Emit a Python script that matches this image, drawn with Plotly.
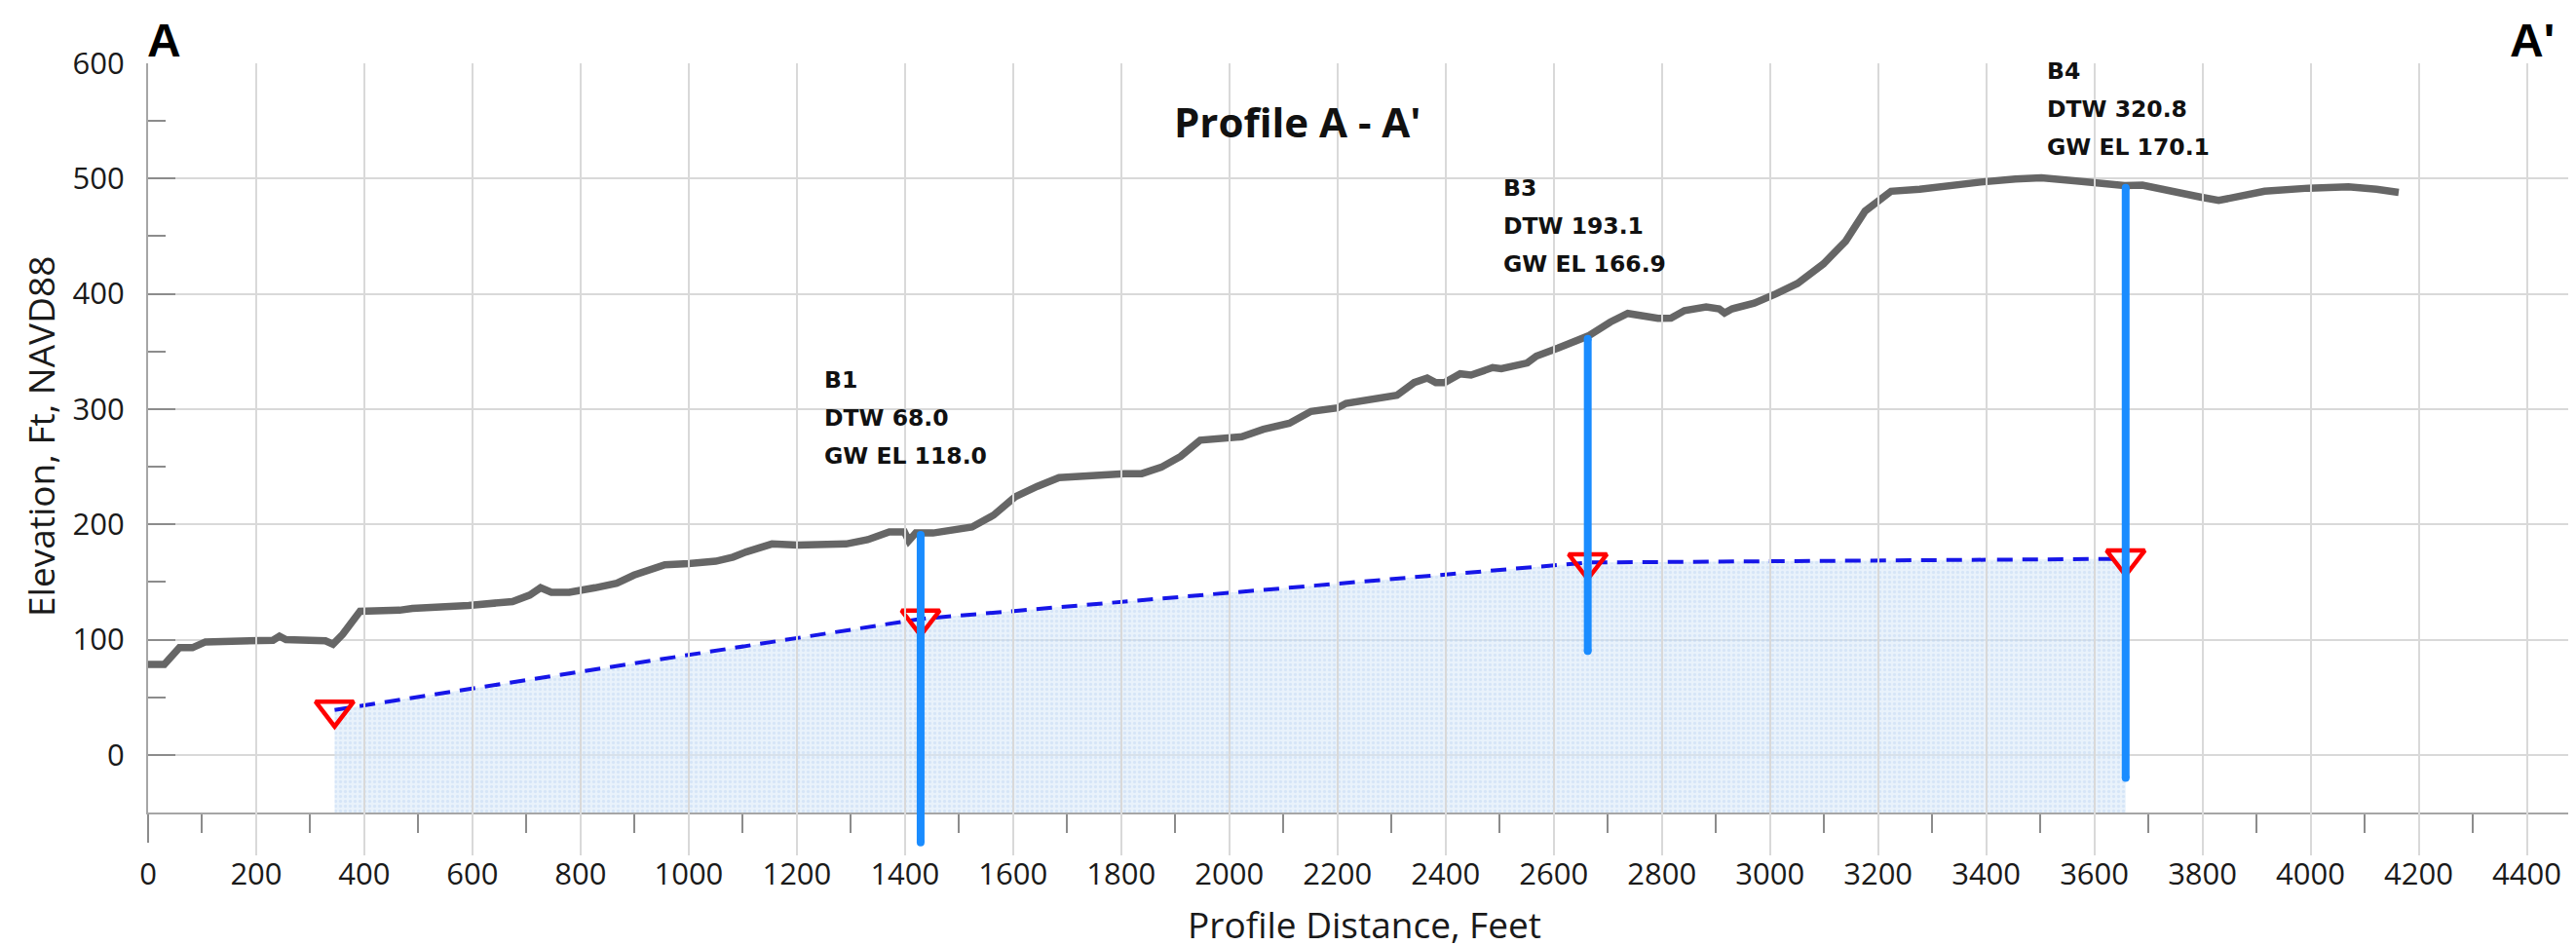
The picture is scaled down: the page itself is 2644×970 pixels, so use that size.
import plotly.graph_objects as go

# ---------------- data ----------------
GROUND_X = [0, 30, 58, 82, 106, 167, 231, 243, 255, 328, 342, 360, 392, 465, 489, 593, 650, 674, 706, 726,
            746, 779, 827, 867, 899, 932, 956, 1000, 1050, 1082, 1106, 1154, 1202, 1291, 1331, 1371, 1399,
            1407, 1420, 1452, 1524, 1564, 1604, 1645, 1685, 1806, 1838, 1874, 1910, 1946, 2023, 2063, 2111,
            2151, 2200, 2216, 2262, 2310, 2342, 2366, 2382, 2398, 2427, 2447, 2487, 2503, 2551, 2568, 2608,
            2648, 2664, 2705, 2737, 2793, 2817, 2842, 2882, 2906, 2916, 2930, 2971, 3011, 3051, 3099, 3140,
            3176, 3196, 3224, 3277, 3309, 3390, 3454, 3502, 3567, 3600, 3656, 3689, 3737, 3796, 3830, 3863,
            3915, 3996, 4070, 4122, 4163]
GROUND_Y = [78.5, 78.5, 93, 93, 98, 99.4, 99.4, 103, 100, 99, 96, 104.6, 124.5, 125.5, 127, 129.7, 131.8,
            133, 138.6, 145, 141, 141, 145, 149, 156, 161, 165, 166, 168, 171.6, 176, 183, 182, 183, 186.7,
            193.5, 193.5, 185.7, 192.5, 192.5, 197.7, 208, 224, 233, 240.6, 244, 244, 249.5, 259, 273, 276,
            282.5, 287.7, 298, 301, 305, 308.6, 312, 323, 327, 323, 323, 330.6, 329.5, 336, 335, 340, 346,
            353, 361, 363.5, 375.6, 383, 378.7, 379, 385.5, 388.7, 387, 383.4, 387, 392, 400, 409, 426,
            445.7, 471.8, 478.6, 489, 490.7, 492.8, 497, 499.6, 500.6, 498, 496, 494, 494.3, 489, 484, 481,
            484, 489, 491.7, 492.8, 490.7, 488]

WT_X = [345, 1429, 2663, 3658]
WT_Y = [39, 118.0, 166.9, 170.1]

WELL_NAMES = ["B1", "B3", "B4"]
WELL_X = [1429, 2663, 3658]
WELL_TOP = [191, 361, 492]
WELL_BOTTOM = [-76, 90, -20]
WELL_DTW = [68.0, 193.1, 320.8]
WELL_GWEL = [118.0, 166.9, 170.1]

X_RANGE = [0, 4500]
Y_RANGE = [-50, 600]
X_DTICK = 200
Y_DTICK = 100

# ---------------- layout constants (pixels) ----------------
W, H = 2644, 970
ML, MR, MT, MB = 144, 3, 57, 100
PLOT_W = W - ML - MR
PLOT_H = H - MT - MB
AXIS_BOTTOM_PX = 826          # pixel row of the x axis
DOM0 = (H - MB - AXIS_BOTTOM_PX) / PLOT_H
FT_PER_PX_Y = (Y_RANGE[1] - Y_RANGE[0]) / (AXIS_BOTTOM_PX - MT)
Y2_MIN = Y_RANGE[0] - (H - MB - AXIS_BOTTOM_PX) * FT_PER_PX_Y


def px_x(px):
    return (px - ML) / PLOT_W


def px_y(py):
    return (H - MB - py) / PLOT_H


# label placement (data units)
LABEL_X = [1247, 2503, 3508]
LABEL_Y0 = [325.5, 492.0, 593.0]
LABEL_STEP = 33.0

GRID = "#d9d9d9"
AXIS = "#a6a6a6"
TICK = "#8c8c8c"
TXT = "#1a1a1a"
WELL_BLUE = "#1a8cff"

fig = go.Figure()

baseline = [Y_RANGE[0] for _ in WT_X]
fig.add_trace(go.Scatter(x=WT_X, y=baseline, mode="lines", line=dict(width=0, color="rgba(0,0,0,0)"),
                         hoverinfo="skip", showlegend=False))
fig.add_trace(go.Scatter(x=WT_X, y=WT_Y, mode="lines", fill="tonexty",
                         fillcolor="rgba(190,214,242,0.45)",
                         fillpattern=dict(shape=".", fgcolor="rgba(165,198,238,0.55)",
                                          bgcolor="rgba(214,230,248,0.55)", size=5, solidity=0.35),
                         line=dict(color="#1616e8", width=4, dash="16px,10px"), showlegend=False))
fig.add_trace(go.Scatter(x=GROUND_X, y=GROUND_Y, mode="lines",
                         line=dict(color="#666666", width=7.5), showlegend=False))
fig.add_trace(go.Scatter(x=WT_X, y=WT_Y, mode="markers",
                         marker=dict(symbol="triangle-down-open", size=34, color="#ff0000",
                                     line=dict(color="#ff0000", width=4.5)),
                         showlegend=False))
for i in range(len(WELL_X)):
    fig.add_trace(go.Scatter(x=[WELL_X[i], WELL_X[i]], y=[WELL_TOP[i], WELL_BOTTOM[i]], mode="lines+markers",
                             line=dict(color=WELL_BLUE, width=8),
                             marker=dict(symbol="circle", size=8, color=WELL_BLUE, line=dict(width=0)),
                             yaxis="y2", showlegend=False))

annotations = []
for i, name in enumerate(WELL_NAMES):
    lines = [name, f"DTW {WELL_DTW[i]:.1f}", f"GW EL {WELL_GWEL[i]:.1f}"]
    for j, t in enumerate(lines):
        annotations.append(dict(x=LABEL_X[i], y=LABEL_Y0[i] - j * LABEL_STEP, xref="x", yref="y",
                                text=t, showarrow=False, xanchor="left", yanchor="middle",
                                font=dict(family="DejaVu Sans", size=23.5, color="#111111", weight="bold")))

annotations += [
    dict(x=px_x(1324), y=px_y(116), xref="paper", yref="paper", text="Profile A - A'", showarrow=False,
         xanchor="center", yanchor="middle",
         font=dict(family="Open Sans", size=42, color="#111111", weight="bold")),
    dict(x=px_x(160), y=px_y(34), xref="paper", yref="paper", text="A", showarrow=False,
         xanchor="center", yanchor="middle",
         font=dict(family="Liberation Sans", size=48, color="#000000", weight="bold")),
    dict(x=px_x(2591), y=px_y(34), xref="paper", yref="paper", text="A'", showarrow=False,
         xanchor="center", yanchor="middle",
         font=dict(family="Liberation Sans", size=48, color="#000000", weight="bold")),
    dict(x=px_x(1392), y=px_y(940), xref="paper", yref="paper", text="Profile Distance, Feet",
         showarrow=False, xanchor="center", yanchor="middle",
         font=dict(family="Open Sans", size=37, color=TXT)),
    dict(x=px_x(34), y=px_y(440), xref="paper", yref="paper", text="Elevation, Ft, NAVD88",
         showarrow=False, xanchor="center", yanchor="middle", textangle=-90,
         font=dict(family="Open Sans", size=37, color=TXT)),
]

fig.update_layout(
    width=W, height=H,
    margin=dict(l=ML, r=MR, t=MT, b=MB, autoexpand=False),
    paper_bgcolor="white", plot_bgcolor="rgba(0,0,0,0)",
    showlegend=False,
    annotations=annotations,
    xaxis=dict(range=X_RANGE, tick0=0, dtick=X_DTICK, showgrid=True, gridcolor=GRID, gridwidth=2,
               zeroline=False, showline=True, linecolor=AXIS, linewidth=2,
               ticks="outside", ticklen=29, tickwidth=2, tickcolor=TICK,
               minor=dict(ticks="outside", ticklen=19, dtick=100, tick0=0, tickcolor=TICK, tickwidth=2,
                          showgrid=False),
               tickfont=dict(family="Open Sans", size=31, color=TXT), ticklabelstandoff=6,
               anchor="y", automargin=False),
    yaxis=dict(range=Y_RANGE, domain=[DOM0, 1], tick0=0, dtick=Y_DTICK, showgrid=True, gridcolor=GRID,
               gridwidth=2, zeroline=False, showline=True, linecolor=AXIS, linewidth=2,
               ticks="inside", ticklen=28, tickwidth=2, tickcolor=TICK,
               minor=dict(ticks="inside", ticklen=18, dtick=50, tick0=0, tickcolor=TICK, tickwidth=2,
                          showgrid=False),
               tickfont=dict(family="Open Sans", size=31, color=TXT), ticklabelstandoff=16,
               anchor="x", automargin=False),
    yaxis2=dict(range=[Y2_MIN, Y_RANGE[1]], domain=[0, 1], visible=False, showgrid=False,
                zeroline=False, anchor="x", fixedrange=True),
)

fig.write_html("out.html")
